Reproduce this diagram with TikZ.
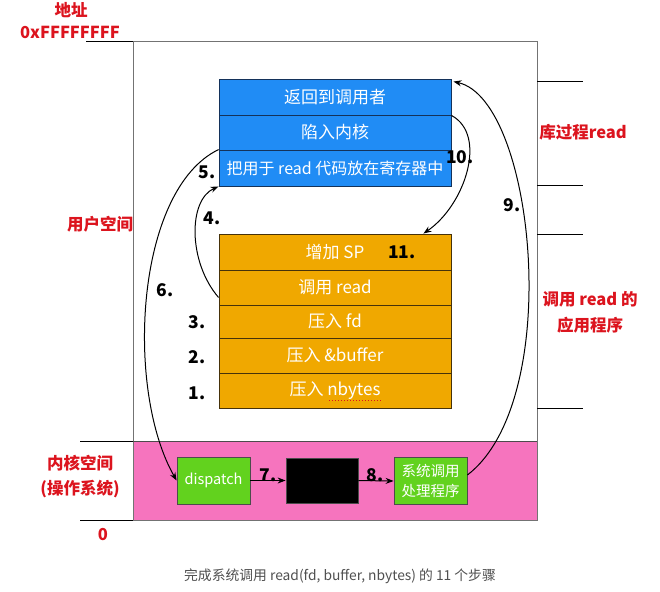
\documentclass[tikz,border=0pt]{standalone}
\usepackage{fontspec}
\setmainfont{Noto Sans CJK SC}
\usetikzlibrary{arrows.meta}
\definecolor{bluefill}{RGB}{32,140,245}
\definecolor{blueline}{RGB}{20,50,90}
\definecolor{orangefill}{RGB}{240,168,0}
\definecolor{orangeline}{RGB}{70,50,10}
\definecolor{pinkfill}{RGB}{246,116,190}
\definecolor{greenfill}{RGB}{98,210,30}
\definecolor{redtext}{RGB}{220,20,30}
\definecolor{capgray}{RGB}{80,80,80}
\begin{document}
\begin{tikzpicture}[x=1pt,y=-1pt,
  bluebox/.style={draw=blueline, line width=0.9pt, fill=bluefill, rectangle, minimum width=232pt, inner sep=0pt, text=white, font=\fontsize{17}{20}\selectfont},
  orbox/.style={draw=orangeline, line width=0.9pt, fill=orangefill, rectangle, minimum width=232pt, inner sep=0pt, text=white, font=\fontsize{17}{20}\selectfont},
  grbox/.style={draw=black!70, line width=0.8pt, fill=greenfill, rectangle, minimum width=73pt, minimum height=47pt, inner sep=0pt, text=white, font=\fontsize{14.5}{20}\selectfont, align=center},
  redlab/.style={text=redtext, font=\fontsize{16.5}{20}\selectfont\bfseries, align=center, inner sep=0pt},
  numlab/.style={text=black, font=\fontsize{17.5}{20}\selectfont\bfseries, inner sep=0pt},
  tick/.style={line width=1pt, black},
  conn/.style={line width=1pt, -{Stealth[length=8pt,width=6pt]}}
]
\useasboundingbox (0,0) rectangle (660,591);
\fill[white] (0,0) rectangle (660,591);

% kernel area and frame
\fill[pinkfill] (133,441) rectangle (537,520);
\draw[black!55, line width=1pt] (133,42) rectangle (537,520);
\draw[black!70, line width=1pt] (133,441) -- (537,441);

% ticks
\draw[tick] (86,42) -- (133,42);
\draw[tick] (80,441) -- (133,441);
\draw[tick] (80,520) -- (133,520);
\draw[tick] (537,82) -- (583,82);
\draw[tick] (537,185) -- (583,185);
\draw[tick] (537,234) -- (583,234);
\draw[tick] (537,408) -- (583,408);

% red labels
\node[redlab] (addr) at (71,10) {地址};
\node[redlab] (top) at (70,32) {0xFFFFFFFF};
\node[redlab] (user) at (100,224) {用户空间};
\node[redlab] (kern) at (80,463) {内核空间};
\node[redlab] (os) at (80,489) {(操作系统)};
\node[redlab] (zero) at (103,535) {0};
\node[redlab] (lib) at (583,132) {库过程read};
\node[redlab] (app1) at (590,299) {调用 read 的};
\node[redlab] (app2) at (590,325) {应用程序};

% blue boxes
\node[bluebox, minimum height=36pt] (b1) at (335,97) {返回到调用者};
\node[bluebox, minimum height=35pt] (b2) at (335,132.5) {陷入内核};
\node[bluebox, minimum height=36pt, font=\fontsize{16}{20}\selectfont] (b3) at (335,168) {把用于 read 代码放在寄存器中};

% orange boxes
\node[orbox, minimum height=36pt] (o1) at (335,252) {增加 SP};
\node[orbox, minimum height=35pt] (o2) at (335,287.5) {调用 read};
\node[orbox, minimum height=33pt] (o3) at (335,321.5) {压入 fd};
\node[orbox, minimum height=35pt] (o4) at (335,355.5) {压入 \&buffer};
\node[orbox, minimum height=35pt] (o5) at (335,390.5) {压入 nbytes};
\draw[redtext, line width=1pt, dotted] (329,400) -- (381,400);

% kernel boxes
\node[grbox] (disp) at (213.5,480.5) {dispatch};
\node[draw=black!70, line width=0.8pt, fill=black, rectangle, minimum width=72pt, minimum height=45pt, inner sep=0pt] (tbl) at (322,480.5) {};
\node[grbox] (sys) at (430.5,481) {系统调用\\处理程序};

% connectors
\draw[conn] (disp.east) -- (tbl.west);
\draw[conn] (tbl.east) -- (sys.west);
\draw[conn] ([yshift=8pt]o2.south west) .. controls (188,262) and (188,200) .. (b3.south west);
\draw[conn] (b3.north west) .. controls (135,190) and (125,390) .. (disp.west);
\draw[conn] ([yshift=6pt]sys.east) .. controls (565,400) and (535,100) .. ([xshift=2pt,yshift=-3pt]b1.north east);
\draw[conn] (b1.south east) .. controls (488,135) and (465,205) .. ([xshift=-28pt]o1.north east);

% step numbers
\node[numlab] (n1) at (197,393) {1.};
\node[numlab] (n2) at (197,357) {2.};
\node[numlab] (n3) at (197,322) {3.};
\node[numlab] (n4) at (212,218) {4.};
\node[numlab] (n5) at (207,172) {5.};
\node[numlab] (n6) at (165,290) {6.};
\node[numlab] (n7) at (268,475) {7.};
\node[numlab] (n8) at (375,475) {8.};
\node[numlab] (n9) at (512,205) {9.};
\node[numlab] (n10) at (460,157) {10.};
\node[numlab] (n11) at (402,252) {11.};

% caption
\node[text=capgray, font=\fontsize{13.8}{16}\selectfont, inner sep=0pt] (cap) at (340,576) {完成系统调用 read(fd, buffer, nbytes) 的 11 个步骤};
\end{tikzpicture}
\end{document}
